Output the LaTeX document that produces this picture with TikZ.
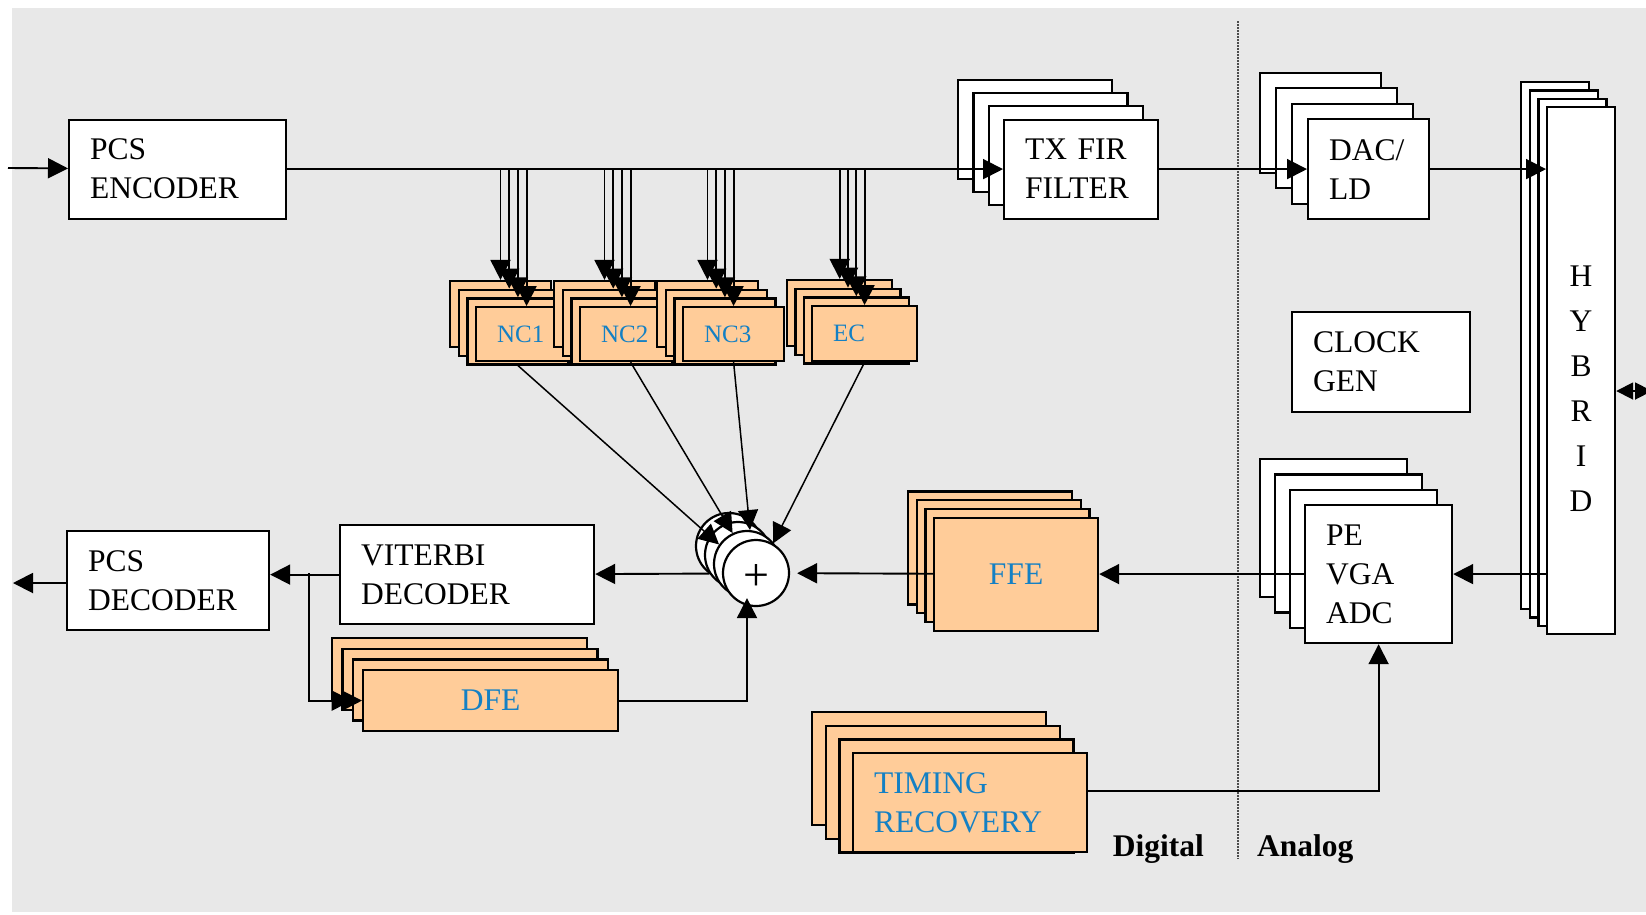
\documentclass[tikz,border=0pt]{standalone}
\usepackage{fontspec}
\setmainfont{Liberation Serif}
\usetikzlibrary{calc,arrows.meta}

\definecolor{bggray}{RGB}{232,232,232}
\definecolor{boxorange}{RGB}{255,204,153}
\definecolor{labelblue}{RGB}{20,128,196}

\newcommand{\bigfont}{\fontsize{31.5}{39}\selectfont}
\newcommand{\smallfont}{\fontsize{25}{30}\selectfont}

% three shifted copies behind a front box
\newcommand{\deck}[6][]{%
  \foreach \k in {3,2,1}
    \node[#5,#1] (#2-\k) at ($(#3)-\k*(#4)$) {};
  \node[#5] (#2) at (#3) {#6};
}

\tikzset{
  dims/.code 2 args={\pgfmathsetmacro\boxtw{#1-42}%
    \pgfkeysalso{minimum width=#1pt, minimum height=#2pt, text width=\boxtw pt}},
  box/.style={draw, line width=2.2pt, fill=white, anchor=north west,
    inner xsep=21pt, inner ysep=0pt, align=left, font=\bigfont},
  dsp/.style={box, fill=boxorange, text=labelblue, align=center},
  adder/.style={circle, draw, line width=2.2pt, fill=white, minimum size=66pt,
    inner sep=0pt, font=\fontsize{46}{46}\selectfont},
  wire/.style={line width=1.9pt},
  arr/.style={wire, -{Triangle[length=20pt,width=20pt]}},
  divider/.style={line width=1.5pt, dash pattern=on 1.5pt off 1.5pt, black!70},
}

\begin{document}
\begin{tikzpicture}[x=1pt, y=-1pt]
\useasboundingbox (0,0) rectangle (1646,914);
\fill[bggray] (12,8) rectangle (1646,912);

% transmit side
\node[box, dims={217}{99}] (pcsenc) at (68,118.5) {PCS\\ENCODER};
\deck{txfir}{1003,118.5}{15.3,13.3}{box, dims={154}{99}}{TX FIR\\FILTER}
\deck{dac}{1307,118}{16,15.5}{box, dims={121}{100}}{DAC/\\LD}
\deck{hybrid}{1546,106}{8.7,8.3}{box, dims={68}{527}, align=center,
  font=\fontsize{31.5}{45}\selectfont}{\rule{0pt}{57pt}H\\Y\\B\\R\\I\\D}
\node[box, dims={178}{100}] (clock) at (1291,311) {CLOCK\\GEN};

% cancellers
\deck[minimum height=66pt]{nc1}{475,306}{8.7,8.7}{dsp, dims={101}{54}, align=left, font=\smallfont}{NC1}
\deck[minimum height=66pt]{nc2}{579,306}{8.7,8.7}{dsp, dims={101}{54}, align=left, font=\smallfont}{NC2}
\deck[minimum height=66pt]{nc3}{682,306}{8.7,8.7}{dsp, dims={101}{54}, align=left, font=\smallfont}{NC3}
\deck[minimum height=66pt]{ec}{811,305}{8.3,8.7}{dsp, dims={105}{55}, align=left, font=\smallfont}{EC}

% receive side
\deck{pe}{1304,504}{15,15.3}{box, dims={147}{138}}{PE\\VGA\\ADC}
\deck{ffe}{933,516.5}{8.7,8.7}{dsp, dims={164}{113}}{FFE}
\deck{sum}{756,573}{9,9}{adder}{\raisebox{-17pt}[0pt][0pt]{+}}
\node[box, dims={254}{99}] (viterbi) at (339,524) {VITERBI\\DECODER};
\node[box, dims={202}{99}] (pcsdec) at (66,530) {PCS\\DECODER};
\deck{dfe}{362,669}{10.3,10.7}{dsp, dims={255}{61}}{DFE}
\deck[minimum height=113pt]{timing}{852,752}{13.7,13.7}{dsp, dims={234}{99}, align=left}{TIMING\\RECOVERY}

\node[anchor=base east, inner sep=0pt, font=\bigfont\bfseries] (digital) at (1204,856) {Digital};
\node[anchor=base west, inner sep=0pt, font=\bigfont\bfseries] (analog) at (1257,856) {Analog};

\coordinate (txin) at (8,168);
\coordinate (rxout) at (13,583);
\coordinate (tap) at (309,573);
\coordinate (cable) at (1652,391);
\coordinate (divtop) at (1238,21);
\coordinate (divbot) at (1238,859);

\draw[divider] (divtop) -- (divbot);

% connections
\draw[arr] (txin) -- (pcsenc);
\draw[arr] (pcsenc) -- (txfir);
\draw[arr] (txfir) -- (dac);
\draw[arr] (dac) -- (dac -| hybrid.west);
\draw[wire, {Triangle[length=17pt,width=17pt]}-{Triangle[length=17pt,width=17pt]}]
  (hybrid.east |- cable) -- (cable);
\foreach \s in {nc1,nc2,nc3,ec} {
  \foreach \k in {3,2,1}
    \draw[arr] (\s-\k.north |- pcsenc.east) -- (\s-\k.north);
  \draw[arr] (\s.north |- pcsenc.east) -- (\s.north);
}
\draw[arr, line width=1.5pt] (nc1-1.south) -- (sum-1.145);
\draw[arr, line width=1.5pt] (nc2.south) -- (sum-1.115);
\draw[arr, line width=1.5pt] (nc3.south) -- (sum-1.85);
\draw[arr, line width=1.5pt] (ec.south) -- (sum.60);

\draw[arr] (hybrid.west |- pe) -- (pe);
\draw[arr] (pe) -- (ffe);
\draw[arr, shorten >=7pt] (ffe) -- (sum);
\draw[arr] (sum-2.213) -- (viterbi);
\draw[arr] (viterbi) -- (viterbi -| pcsdec.east);
\draw[arr] (pcsdec.west |- rxout) -- (rxout);
\draw[arr] (tap) |- (dfe-1.west |- dfe.west);
\draw[arr] (tap) |- (dfe);
\draw[arr] (dfe.east) -| (sum-1.south);
\draw[arr] ([yshift=12pt]timing.east) -| (pe);
\end{tikzpicture}
\end{document}
